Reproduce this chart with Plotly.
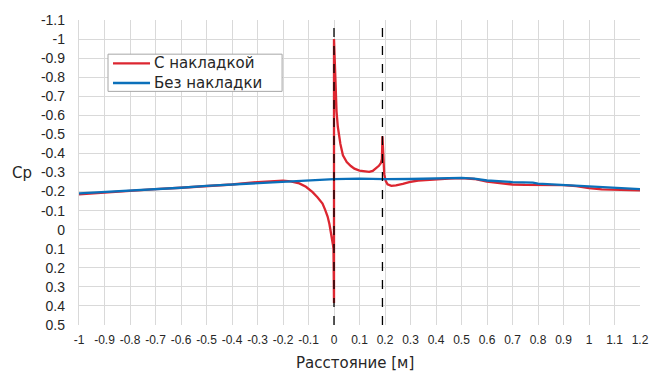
import plotly.graph_objects as go

red_x = [-1, -0.9, -0.8, -0.7, -0.6, -0.5, -0.4, -0.3, -0.25, -0.2, -0.17, -0.136, -0.11, -0.084,
         -0.065, -0.045, -0.035, -0.025, -0.018, -0.012, -0.007, -0.004, -0.002, -0.001, 0,
         0, 0.002, 0.005, 0.01, 0.015, 0.025, 0.035, 0.05, 0.066, 0.08, 0.1, 0.12, 0.138, 0.152,
         0.164, 0.176, 0.184, 0.188, 0.19, 0.193, 0.197, 0.203, 0.21, 0.225, 0.243, 0.27, 0.295,
         0.33, 0.374, 0.4, 0.45, 0.5, 0.55, 0.6, 0.65, 0.7, 0.75, 0.8, 0.85, 0.9, 0.95, 1.0,
         1.05, 1.1, 1.15, 1.2]
red_y = [-0.185, -0.195, -0.205, -0.213, -0.22, -0.228, -0.237, -0.25, -0.254, -0.257, -0.253, -0.243,
         -0.225, -0.197, -0.17, -0.137, -0.105, -0.069, -0.03, 0.01, 0.05, 0.08, 0.1, 0.2, 0.385,
         -1.0, -0.9, -0.75, -0.62, -0.54, -0.45, -0.39, -0.355, -0.334, -0.32, -0.31, -0.305, -0.303,
         -0.308, -0.32, -0.335, -0.35, -0.37, -0.49, -0.38, -0.29, -0.255, -0.238, -0.23, -0.232,
         -0.24, -0.25, -0.258, -0.263, -0.266, -0.268, -0.27, -0.266, -0.252, -0.243, -0.237,
         -0.235, -0.235, -0.235, -0.234, -0.229, -0.218, -0.212, -0.209, -0.207, -0.206]

blue_x = [-1, -0.9, -0.8, -0.7, -0.6, -0.5, -0.4, -0.3, -0.2, -0.1, 0, 0.1, 0.2, 0.3, 0.4, 0.5,
          0.55, 0.6, 0.7, 0.78, 0.8, 0.9, 1.0, 1.1, 1.2]
blue_y = [-0.19, -0.197, -0.205, -0.213, -0.22, -0.23, -0.237, -0.245, -0.252, -0.258, -0.265,
          -0.268, -0.265, -0.266, -0.27, -0.272, -0.268, -0.258, -0.25, -0.247, -0.242, -0.235,
          -0.225, -0.218, -0.213]

series_names = ["С накладкой", "Без накладки"]
series_colors = ["#dc2630", "#0b70ba"]

x_ticks = [round(-1 + 0.1 * i, 1) for i in range(23)]
y_ticks = [round(-1.1 + 0.1 * i, 1) for i in range(17)]
marker_lines = [0, 0.19]

def fmt(v):
    s = ("%g" % v)
    return "0" if s in ("-0", "0") else s

TXT = "#262626"
fig = go.Figure()
fig.add_trace(go.Scatter(x=red_x, y=red_y, mode="lines", name=series_names[0],
                         line=dict(color=series_colors[0], width=2.3), showlegend=False))
fig.add_trace(go.Scatter(x=blue_x, y=blue_y, mode="lines", name=series_names[1],
                         line=dict(color=series_colors[1], width=2.3), showlegend=False))

for xv in marker_lines:
    fig.add_shape(type="line", x0=xv, x1=xv, y0=0, y1=1, xref="x", yref="paper",
                  line=dict(color="black", width=1.3, dash="dash"), layer="above")

# legend box (drawn manually to match spacing)
fig.add_shape(type="rect", xref="paper", yref="paper", x0=0.0517, x1=0.3620, y0=0.766, y1=0.888,
              line=dict(color="#a6a6a6", width=1), fillcolor="white", layer="above")
leg_rows = [0.8575, 0.7935]
for name, col, yy in zip(series_names, series_colors, leg_rows):
    fig.add_shape(type="line", xref="paper", yref="paper", x0=0.0606, x1=0.1266, y0=yy, y1=yy,
                  line=dict(color=col, width=2.3), layer="above")
    fig.add_annotation(text=name, xref="paper", yref="paper", x=0.1295, y=yy,
                       xanchor="left", yanchor="middle", showarrow=False,
                       font=dict(family="DejaVu Sans", size=15, color=TXT))

fig.update_layout(
    width=662, height=374,
    margin=dict(l=79, r=22, t=12, b=49),
    paper_bgcolor="white", plot_bgcolor="white",
    font=dict(family="Liberation Sans, Arial", size=12, color=TXT),
    showlegend=False,
    xaxis=dict(range=[-1, 1.2], tickvals=x_ticks, ticktext=[fmt(v) for v in x_ticks],
               showgrid=True, gridcolor="#d9d9d9", gridwidth=1.3, zeroline=False,
               showline=False, ticks="", tickfont=dict(size=12), ticklabelstandoff=6),
    yaxis=dict(range=[0.5, -1.1], tickvals=y_ticks, ticktext=[fmt(v) for v in y_ticks],
               showgrid=True, gridcolor="#d9d9d9", gridwidth=1.3, zeroline=False,
               showline=True, linecolor="#d9d9d9", linewidth=1.3, ticks="",
               tickfont=dict(size=14), ticklabelstandoff=10),
)
fig.add_annotation(text="Cp", xref="paper", yref="y", x=-0.081, y=-0.3,
                   xanchor="right", yanchor="middle", showarrow=False,
                   font=dict(family="DejaVu Sans", size=15, color=TXT))
fig.add_annotation(text="Расстояние [м]", xref="paper", yref="paper", x=0.4925, y=-0.088,
                   xanchor="center", yanchor="top", showarrow=False,
                   font=dict(family="DejaVu Sans", size=15, color=TXT))

fig.write_html("out.html", config={"displayModeBar": False},
               post_script="document.body.style.margin='0';")
